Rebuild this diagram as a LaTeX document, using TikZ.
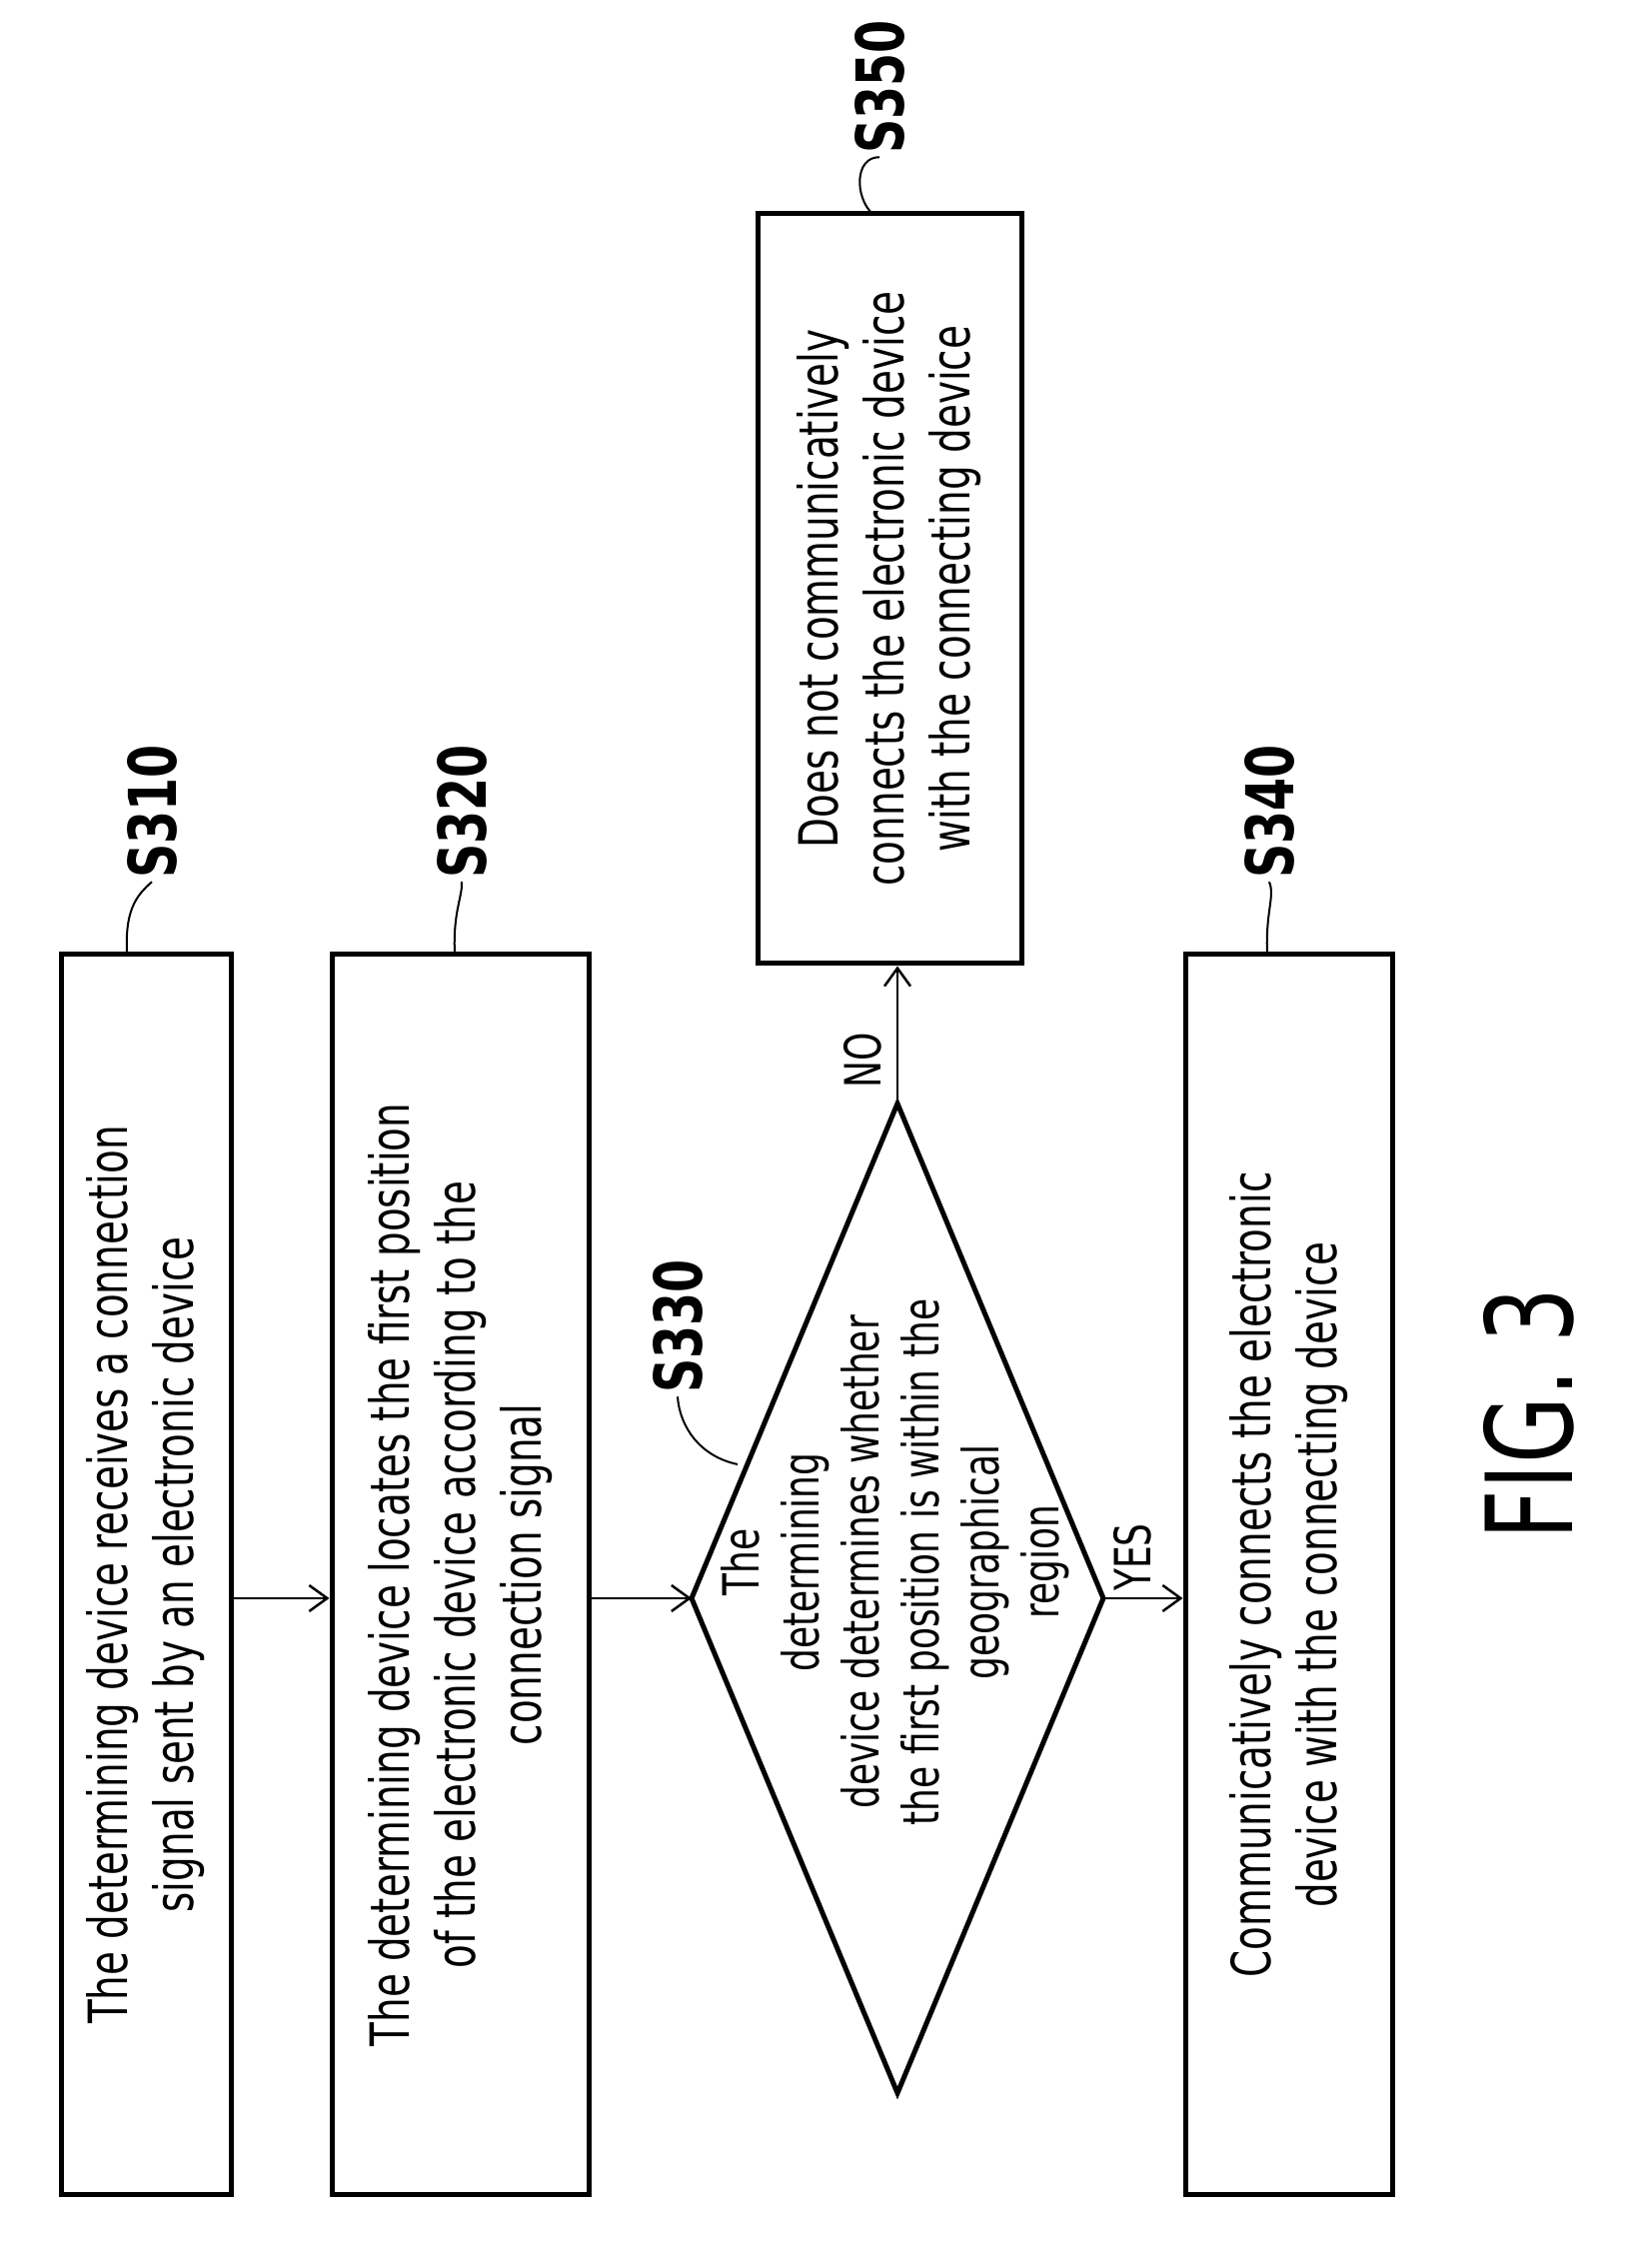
\documentclass[tikz,border=0pt]{standalone}
\usepackage{fontspec}
\setmainfont[FakeStretch=0.72]{DejaVu Sans}
\usetikzlibrary{arrows.meta}
\begin{document}
\begin{tikzpicture}[x=1pt,y=1pt,
  box/.style={draw,line width=5pt,rotate=90,align=center,inner sep=0pt,
    font=\fontsize{54}{66}\selectfont},
  lab/.style={rotate=90,font=\fontsize{66}{70}\selectfont\bfseries},
  lead/.style={line width=2pt},
  arr/.style={line width=2.5pt,-{Straight Barb[length=18pt,width=26pt,line width=2.5pt]}},
  small/.style={rotate=90,font=\fontsize{50}{52}\selectfont}]
\useasboundingbox (0,0) rectangle (1652,2257);
\node[box,minimum width=1241pt,minimum height=170pt] (s310) at (146,681.5)
  {The determining device receives a connection\\signal sent by an electronic device};
\node[box,minimum width=1241pt,minimum height=257pt] (s320) at (460.5,681.5)
  {The determining device locates the first position\\of the electronic device according to the\\connection signal};
\node[box,minimum width=1241pt,minimum height=207pt] (s340) at (1289.5,681.5)
  {Communicatively connects the electronic\\device with the connecting device};
\node[box,minimum width=750pt,minimum height=264pt] (s350) at (890,1668)
  {Does not communicatively\\connects the electronic device\\with the connecting device};
% diamond
\coordinate (dl) at (692,658);
\coordinate (dr) at (1104,658);
\coordinate (dt) at (898,1153);
\coordinate (db) at (898,163);
\draw[line width=5pt,line join=miter] (dl) -- (dt) -- (dr) -- (db) -- cycle;
\node[rotate=90,align=center,font=\fontsize{50}{60}\selectfont] (dia) at (896,694)
  {The\\determining\\device determines whether\\the first position is within the\\geographical\\region};
% arrows
\draw[arr] (s310.south |- dl) -- (s320.north |- dl);
\draw[arr] (s320.south |- dl) -- (dl);
\draw[arr] (dr) -- (s340.north |- dr);
\draw[arr] (dt) -- (dt |- s350.west);
\node[small] (no) at (863,1196) {NO};
\node[small] (yes) at (1133,699) {YES};
% labels
\node[lab] (l310) at (152,1445) {S310};
\node[lab] (l320) at (462,1445) {S320};
\node[lab] (l340) at (1270,1445) {S340};
\node[lab] (l350) at (880,2170) {S350};
\node[lab] (l330) at (678,930) {S330};
\coordinate (c310) at (127,1302);
\coordinate (c320) at (455,1302);
\coordinate (c340) at (1268,1302);
\coordinate (c350) at (873,2043);
\coordinate (c330) at (738,792);
\draw[lead] (c310) .. controls (125,1345) and (135,1360) .. (l310.west);
\draw[lead] (c320) .. controls (453,1345) and (463,1360) .. (l320.west);
\draw[lead] (c340) .. controls (1266,1345) and (1276,1360) .. (l340.west);
\draw[lead] (c350) .. controls (855,2060) and (855,2100) .. (l350.west);
\draw[lead] (c330) .. controls (700,800) and (680,830) .. (l330.west);
\node[rotate=90,font=\fontsize{120}{130}\selectfont] (fig) at (1530,843) {FIG. 3};
\end{tikzpicture}
\end{document}
